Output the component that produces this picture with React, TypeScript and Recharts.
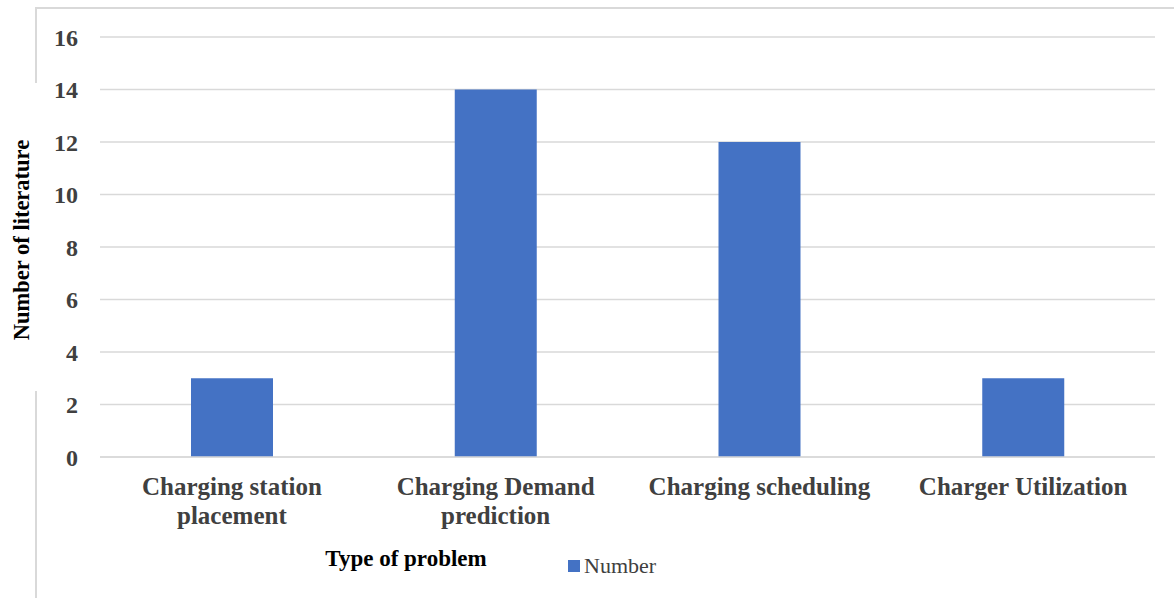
import { Bar, BarChart, CartesianGrid, Label, Legend, XAxis, YAxis } from "recharts";

const categories = [
  "Charging station placement",
  "Charging Demand prediction",
  "Charging scheduling",
  "Charger Utilization",
];
const counts = [3, 14, 12, 3];
const yTicks = [0, 2, 4, 6, 8, 10, 12, 14, 16];

const data = categories.map((name, i) => ({ name, Number: counts[i] }));

const BLUE = "#4472C4";
const GRID = "#d9d9d9";
const serif = "'Liberation Serif', 'Times New Roman', serif";

// long names go on two lines, last word on the second
function splitLabel(s: string) {
  if (s.length <= 20) return [s];
  const k = s.lastIndexOf(" ");
  return [s.slice(0, k), s.slice(k + 1)];
}

function CategoryTick(props: any) {
  const { x, y, payload } = props;
  const lines = splitLabel(payload.value);
  return (
    <text
      x={x}
      y={y + 30}
      textAnchor="middle"
      fill="#404040"
      fontSize={25}
      fontWeight="bold"
      fontFamily={serif}
    >
      {lines.map((l, i) => (
        <tspan key={i} x={x} dy={i === 0 ? 0 : 29}>
          {l}
        </tspan>
      ))}
    </text>
  );
}

function LegendBox() {
  return (
    <div style={{ display: "flex", alignItems: "center", fontFamily: serif, fontSize: 22, color: "#404040", lineHeight: "24px" }}>
      <span style={{ width: 12, height: 12, background: BLUE, display: "inline-block", marginRight: 4 }} />
      <span>Number</span>
    </div>
  );
}

export default function App() {
  return (
    <div style={{ position: "absolute", left: 0, top: 0, width: 1174, height: 598, background: "#fff" }}>
      {/* frame pieces */}
      <div style={{ position: "absolute", left: 36, top: 7, width: 1138, height: 2, background: GRID }} />
      <div style={{ position: "absolute", left: 35, top: 7, width: 2, height: 76, background: GRID }} />
      <div style={{ position: "absolute", left: 35, top: 391, width: 2, height: 207, background: GRID }} />
      <BarChart
        width={1174}
        height={598}
        data={data}
        margin={{ top: 37, right: 19, left: 40, bottom: 0 }}
      >
        <CartesianGrid vertical={false} stroke={GRID} strokeWidth={1.5} />
        <XAxis
          dataKey="name"
          axisLine={{ stroke: GRID, strokeWidth: 1.5 }}
          tickLine={false}
          height={117}
          interval={0}
          tick={<CategoryTick />}
        >
          <Label
            content={(p: any) => (
              <text
                x={p.viewBox.x + 306}
                y={p.viewBox.y + 109}
                textAnchor="middle"
                fontFamily={serif}
                fontWeight="bold"
                fontSize={23}
                fill="#000"
              >
                Type of problem
              </text>
            )}
          />
        </XAxis>
        <YAxis
          width={60}
          domain={[0, 16]}
          ticks={yTicks}
          axisLine={false}
          tickLine={false}
          tickSize={0}
          tickMargin={22}
          tick={{ fill: "#404040", fontSize: 24, fontWeight: "bold", fontFamily: serif }}
        >
          <Label
            content={(p: any) => {
              const cy = p.viewBox.y + p.viewBox.height / 2 - 7;
              return (
                <text
                  x={21}
                  y={cy}
                  transform={`rotate(-90, 21, ${cy})`}
                  textAnchor="middle"
                  dominantBaseline="central"
                  fontFamily={serif}
                  fontWeight="bold"
                  fontSize={22.5}
                  fill="#000"
                >
                  Number of literature
                </text>
              );
            }}
          />
        </YAxis>
        <Legend
          content={<LegendBox />}
          wrapperStyle={{ position: "absolute", left: 568, top: 554, width: "auto", height: 24 }}
        />
        <Bar dataKey="Number" fill={BLUE} barSize={82} isAnimationActive={false} />
      </BarChart>
    </div>
  );
}
